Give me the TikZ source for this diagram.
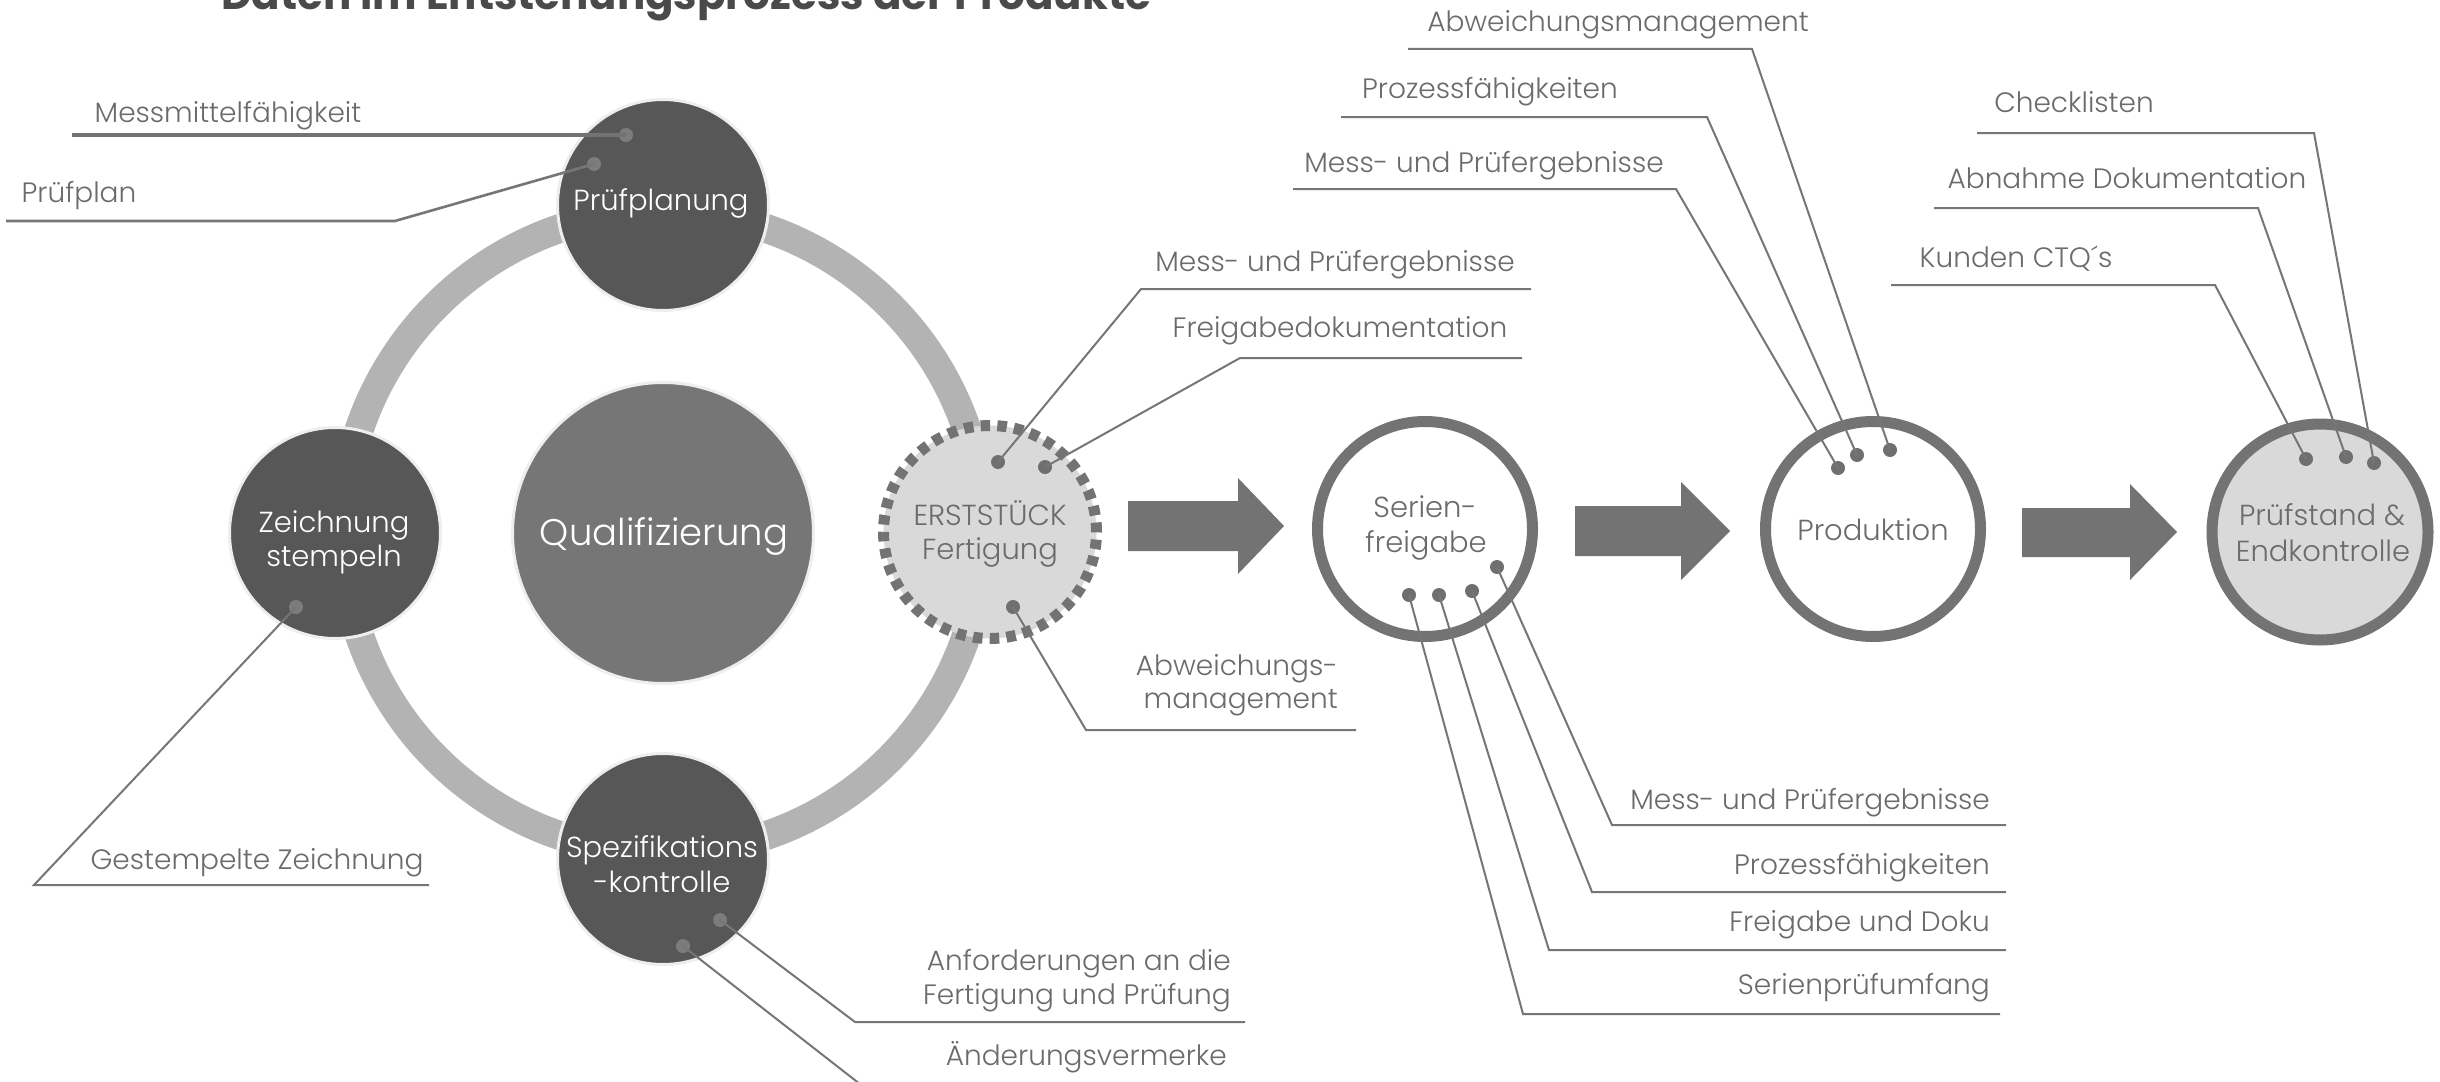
\documentclass[tikz,border=0pt]{standalone}
\usepackage{fontspec}
\setmainfont{Poppins Light}
\newfontfamily\titlefont{Poppins Bold}

\definecolor{ringgray}{HTML}{B3B3B3}
\definecolor{discdark}{HTML}{575757}
\definecolor{discmid}{HTML}{767676}
\definecolor{disclight}{HTML}{D9D9D9}
\definecolor{rimlight}{HTML}{EEEEEE}
\definecolor{strokegray}{HTML}{737373}
\definecolor{linegray}{HTML}{767676}
\definecolor{labelgray}{HTML}{6B6B6B}
\definecolor{dotgray}{HTML}{6F6F6F}
\definecolor{dotsoft}{HTML}{7C7C7C}
\definecolor{titlegray}{HTML}{4A4A4A}

\begin{document}
\begin{tikzpicture}[x=1pt,y=-1pt,
  darkdisc/.style={circle, inner sep=0, fill=discdark, draw=rimlight, line width=3pt, minimum size=211pt},
  middisc/.style={circle, inner sep=0, fill=discmid, draw=rimlight, line width=3pt, minimum size=301pt},
  ringdisc/.style={circle, inner sep=0, fill=#1, draw=strokegray, line width=11pt, minimum size=215pt},
  dashdisc/.style={circle, inner sep=0, fill=disclight, draw=strokegray, line width=11pt,
                   dash pattern=on 9.5pt off 7.22pt, minimum size=213pt},
  blockarrow/.style={fill=strokegray},
  calldot/.style={circle, inner sep=0, minimum size=14pt, fill=#1},
  calldot/.default=dotgray,
  lead/.style={draw=linegray, line width=2pt, line join=miter},
  lbl/.style={text=labelgray, inner sep=0, font=\fontsize{28}{34}\selectfont},
  inlbl/.style={inner sep=0, font=\fontsize{29}{35}\selectfont, text=#1},
]
\clip (0,0) rectangle (2440,1081);
\fill[white] (0,0) rectangle (2440,1081);

% title
\node[anchor=base, inner sep=0, text=titlegray, font=\titlefont\fontsize{42}{50}\selectfont]
  (title) at (686,10) {Daten im Entstehungsprozess der Produkte};

% qualification cycle
\coordinate (cyc) at (663,532);
\draw[draw=ringgray, line width=29pt] (cyc) circle[radius=320.5];

\node[middisc] (qual) at (663,533) {};
\node[darkdisc] (pp) at (663,205) {};
\node[darkdisc] (zs) at (335,533) {};
\node[darkdisc] (sk) at (663,859) {};
\node[dashdisc] (ef) at (990,532) {};

% process chain
\node[ringdisc=white] (sf) at (1425,529) {};
\node[ringdisc=white] (pr) at (1873,529) {};
\node[ringdisc=disclight, minimum size=216pt] (pe) at (2320,532) {};

\fill[blockarrow] (1128,501) -- (1238,501) -- (1238,478) -- (1284,526) -- (1238,574)
  -- (1238,551) -- (1128,551) -- cycle;
\fill[blockarrow] (1575,506) -- (1681,506) -- (1681,482) -- (1730,531) -- (1681,580)
  -- (1681,556) -- (1575,556) -- cycle;
\fill[blockarrow] (2022,508) -- (2130,508) -- (2130,484) -- (2177,532) -- (2130,580)
  -- (2130,557) -- (2022,557) -- cycle;

% labels inside the discs
\node[inlbl=white, anchor=base] (tpp) at (661,210) {Prüfplanung};
\node[inlbl=white, anchor=base, font=\fontsize{37}{44}\selectfont] (tq) at (664,545) {Qualifizierung};
\node[inlbl=white, anchor=base] (tzs1) at (334,532) {Zeichnung};
\node[inlbl=white, anchor=base] (tzs2) at (334,566) {stempeln};
\node[inlbl=white, anchor=base] (tsk1) at (662,857) {Spezifikations};
\node[inlbl=white, anchor=base] (tsk2) at (662,892) {-kontrolle};
\node[inlbl=labelgray, anchor=base] (tef1) at (990,525) {ERSTSTÜCK};
\node[inlbl=labelgray, anchor=base] (tef2) at (990,559) {Fertigung};
\node[inlbl=labelgray, anchor=base] (tsf1) at (1425,517) {Serien-};
\node[inlbl=labelgray, anchor=base] (tsf2) at (1426,552) {freigabe};
\node[inlbl=labelgray, anchor=base] (tpr) at (1873,540) {Produktion};
\node[inlbl=labelgray, anchor=base] (tpe1) at (2322,525) {Prüfstand \&};
\node[inlbl=labelgray, anchor=base] (tpe2) at (2323,561) {Endkontrolle};

% ---- callouts: Prüfplanung
\node[calldot=dotsoft] (d-mm) at (626,135) {};
\coordinate (e-mm) at (72,135);
\draw[lead, line width=3.5pt, draw=strokegray] (d-mm.center) -- (e-mm);
\node[lbl, anchor=base] (l-mm) at (228,122) {Messmittelfähigkeit};

\node[calldot=dotsoft] (d-pp) at (594,164) {};
\coordinate (c-pp) at (395,221);
\coordinate (e-pp) at (6,221);
\draw[lead, line width=2.6pt] (d-pp.center) -- (c-pp) -- (e-pp);
\node[lbl, anchor=base] (l-pp) at (79,202) {Prüfplan};

% ---- callouts: Zeichnung stempeln
\node[calldot=dotsoft] (d-gz) at (296,607) {};
\coordinate (c-gz) at (34,885);
\coordinate (e-gz) at (429,885);
\draw[lead] (d-gz.center) -- (c-gz) -- (e-gz);
\node[lbl, anchor=base] (l-gz) at (257,869) {Gestempelte Zeichnung};

% ---- callouts: Spezifikationskontrolle
\node[calldot=dotsoft] (d-af) at (720,920) {};
\coordinate (c-af) at (855,1022);
\coordinate (e-af) at (1245,1022);
\draw[lead] (d-af.center) -- (c-af) -- (e-af);
\node[lbl, anchor=base east] (l-af1) at (1231,970) {Anforderungen an die};
\node[lbl, anchor=base east] (l-af2) at (1231,1004) {Fertigung und Prüfung};

\node[calldot=dotsoft] (d-av) at (683,946) {};
\coordinate (c-av) at (874,1095);
\coordinate (e-av) at (1245,1095);
\draw[lead] (d-av.center) -- (c-av) -- (e-av);
\node[lbl, anchor=base east] (l-av) at (1227,1065) {Änderungsvermerke};

% ---- callouts: Erststück
\node[calldot] (d-em) at (998,462) {};
\coordinate (c-em) at (1141,289);
\coordinate (e-em) at (1531,289);
\draw[lead] (d-em.center) -- (c-em) -- (e-em);
\node[lbl, anchor=base] (l-em) at (1335,271) {Mess- und Prüfergebnisse};

\node[calldot] (d-fd) at (1045,467) {};
\coordinate (c-fd) at (1240,358);
\coordinate (e-fd) at (1522,358);
\draw[lead] (d-fd.center) -- (c-fd) -- (e-fd);
\node[lbl, anchor=base] (l-fd) at (1340,337) {Freigabedokumentation};

\node[calldot] (d-ab) at (1013,607) {};
\coordinate (c-ab) at (1086,730);
\coordinate (e-ab) at (1356,730);
\draw[lead] (d-ab.center) -- (c-ab) -- (e-ab);
\node[lbl, anchor=base east] (l-ab1) at (1338,675) {Abweichungs-};
\node[lbl, anchor=base east] (l-ab2) at (1338,708) {management};

% ---- callouts: Serienfreigabe
\node[calldot] (d-s1) at (1497,567) {};
\coordinate (c-s1) at (1612,825);
\coordinate (e-s1) at (2006,825);
\draw[lead] (d-s1.center) -- (c-s1) -- (e-s1);
\node[lbl, anchor=base east] (l-s1) at (1990,809) {Mess- und Prüfergebnisse};

\node[calldot] (d-s2) at (1472,591) {};
\coordinate (c-s2) at (1592,892);
\coordinate (e-s2) at (2006,892);
\draw[lead] (d-s2.center) -- (c-s2) -- (e-s2);
\node[lbl, anchor=base east] (l-s2) at (1990,874) {Prozessfähigkeiten};

\node[calldot] (d-s3) at (1439,595) {};
\coordinate (c-s3) at (1549,950);
\coordinate (e-s3) at (2006,950);
\draw[lead] (d-s3.center) -- (c-s3) -- (e-s3);
\node[lbl, anchor=base east] (l-s3) at (1990,931) {Freigabe und Doku};

\node[calldot] (d-s4) at (1409,595) {};
\coordinate (c-s4) at (1523,1014);
\coordinate (e-s4) at (2000,1014);
\draw[lead] (d-s4.center) -- (c-s4) -- (e-s4);
\node[lbl, anchor=base east] (l-s4) at (1990,994) {Serienprüfumfang};

% ---- callouts: Produktion
\node[calldot] (d-p1) at (1838,468) {};
\coordinate (c-p1) at (1676,189);
\coordinate (e-p1) at (1293,189);
\draw[lead] (d-p1.center) -- (c-p1) -- (e-p1);
\node[lbl, anchor=base] (l-p1) at (1484,172) {Mess- und Prüfergebnisse};

\node[calldot] (d-p2) at (1857,455) {};
\coordinate (c-p2) at (1707,117);
\coordinate (e-p2) at (1341,117);
\draw[lead] (d-p2.center) -- (c-p2) -- (e-p2);
\node[lbl, anchor=base] (l-p2) at (1490,98) {Prozessfähigkeiten};

\node[calldot] (d-p3) at (1890,450) {};
\coordinate (c-p3) at (1752,49);
\coordinate (e-p3) at (1408,49);
\draw[lead] (d-p3.center) -- (c-p3) -- (e-p3);
\node[lbl, anchor=base] (l-p3) at (1618,32) {Abweichungsmanagement};

% ---- callouts: Prüfstand & Endkontrolle
\node[calldot] (d-e1) at (2306,459) {};
\coordinate (c-e1) at (2215,285);
\coordinate (e-e1) at (1891,285);
\draw[lead] (d-e1.center) -- (c-e1) -- (e-e1);
\node[lbl, anchor=base] (l-e1) at (2016,267) {Kunden CTQ´s};

\node[calldot] (d-e2) at (2346,457) {};
\coordinate (c-e2) at (2258,208);
\coordinate (e-e2) at (1934,208);
\draw[lead] (d-e2.center) -- (c-e2) -- (e-e2);
\node[lbl, anchor=base] (l-e2) at (2127,188) {Abnahme Dokumentation};

\node[calldot] (d-e3) at (2374,463) {};
\coordinate (c-e3) at (2314,133);
\coordinate (e-e3) at (1977,133);
\draw[lead] (d-e3.center) -- (c-e3) -- (e-e3);
\node[lbl, anchor=base] (l-e3) at (2074,112) {Checklisten};
\end{tikzpicture}
\end{document}
